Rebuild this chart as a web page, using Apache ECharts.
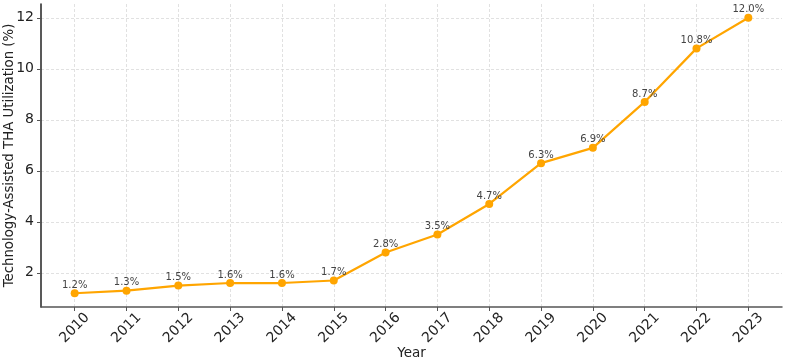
<!DOCTYPE html>
<html>
<head>
<meta charset="utf-8">
<script src="https://cdn.jsdelivr.net/npm/echarts@6/dist/echarts.min.js"></script>
<style>
  html, body { margin: 0; padding: 0; background: #fff; }
  #chart { width: 785px; height: 361px; }
</style>
</head>
<body>
<div id="chart"></div>
<script>
const years = [2010, 2011, 2012, 2013, 2014, 2015, 2016, 2017, 2018, 2019, 2020, 2021, 2022, 2023]
const utilization = [1.2, 1.3, 1.5, 1.6, 1.6, 1.7, 2.8, 3.5, 4.7, 6.3, 6.9, 8.7, 10.8, 12.0]
const yTicks = [2, 4, 6, 8, 10, 12]

const chart = echarts.init(document.getElementById('chart'))

// matplotlib style margins: 5% of the data range each side
const xPad = (years[years.length - 1] - years[0]) * 0.05
const yMin = Math.min(...utilization), yMax = Math.max(...utilization)
const yPad = (yMax - yMin) * 0.05

const gridLine = { show: true, lineStyle: { color: '#d9d9d9', type: [3, 2], width: 0.8 } }

const option = {
  animation: false,
  grid: { left: 41, right: 3, top: 4, bottom: 54, outerBoundsMode: 'none', containLabel: false },
  xAxis: {
    type: 'value',
    min: years[0] - xPad,
    max: years[years.length - 1] + xPad,
    name: 'Year',
    nameLocation: 'middle',
    nameGap: 39,
    nameMoveOverlap: false,
    nameTextStyle: { fontFamily: 'DejaVu Sans', fontSize: 13.5, color: '#222' },
    axisLine: { show: true, onZero: false, lineStyle: { color: '#555', width: 1.5 } },
    axisTick: { show: true, customValues: years, length: 4, lineStyle: { color: '#555' } },
    axisLabel: {
      customValues: years,
      rotate: 45,
      align: 'center',
      verticalAlign: 'middle',
      margin: 21,
      fontFamily: 'DejaVu Sans',
      fontSize: 14,
      color: '#222',
      formatter: v => String(v)
    },
    splitLine: gridLine
  },
  yAxis: {
    type: 'value',
    min: yMin - yPad,
    max: yMax + yPad,
    name: 'Technology-Assisted THA Utilization (%)',
    nameLocation: 'middle',
    nameGap: 25,
    nameMoveOverlap: false,
    nameTextStyle: { fontFamily: 'DejaVu Sans', fontSize: 13.3, color: '#222' },
    axisLine: { show: true, lineStyle: { color: '#222', width: 1.5 } },
    axisTick: { show: true, customValues: yTicks, length: 4, lineStyle: { color: '#555' } },
    axisLabel: {
      customValues: yTicks,
      margin: 7,
      fontFamily: 'DejaVu Sans',
      fontSize: 14,
      color: '#222'
    },
    splitLine: gridLine
  },
  series: [{
    type: 'line',
    data: years.map((y, i) => [y, utilization[i]]),
    symbol: 'circle',
    symbolSize: 8,
    lineStyle: { color: '#FFA500', width: 2.2 },
    itemStyle: { color: '#FFA500' },
    label: {
      show: true,
      position: 'top',
      distance: -1,
      fontFamily: 'DejaVu Sans',
      fontSize: 10,
      color: '#444',
      formatter: p => p.value[1].toFixed(1) + '%'
    }
  }]
}

chart.setOption(option)
</script>
</body>
</html>
